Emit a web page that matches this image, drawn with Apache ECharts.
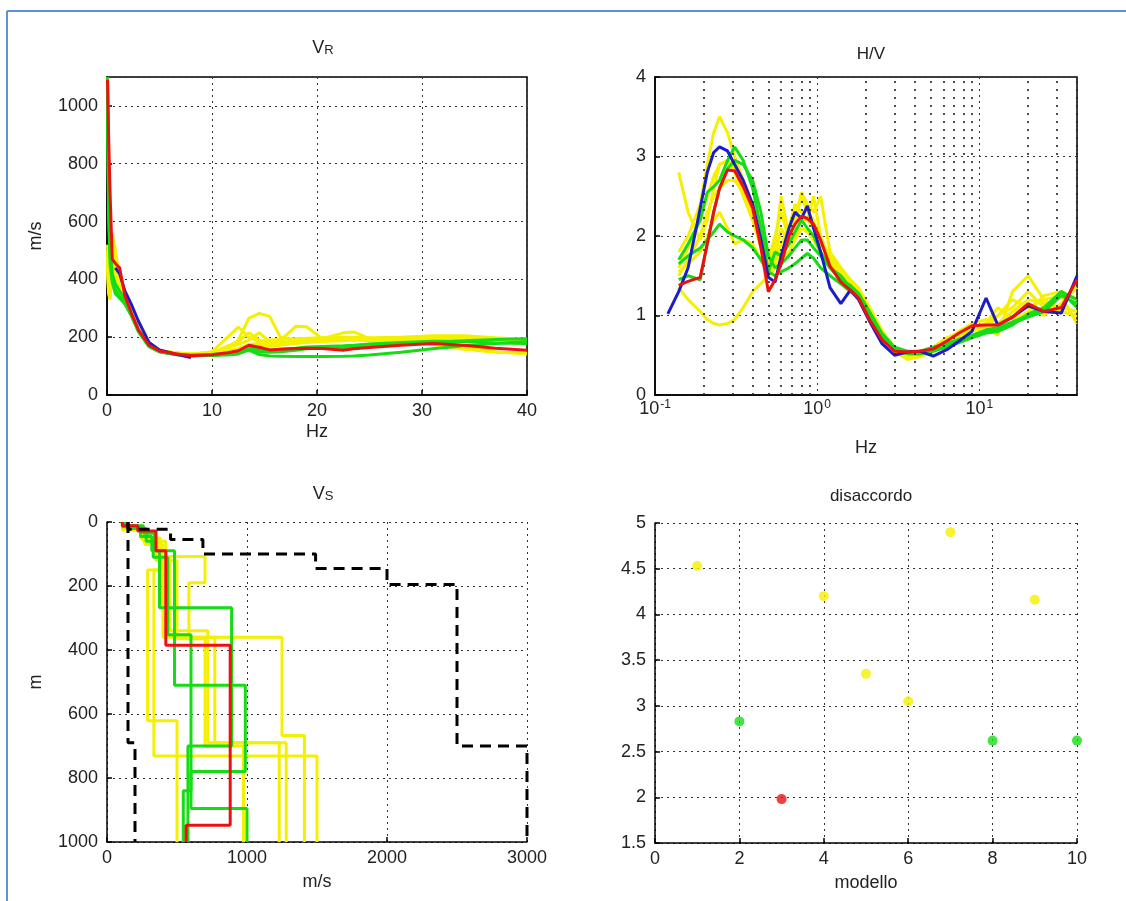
<!DOCTYPE html>
<html>
<head>
<meta charset="utf-8">
<script src="https://cdn.jsdelivr.net/npm/echarts@6/dist/echarts.min.js"></script>
<style>html,body{margin:0;padding:0;background:#fff;}#c{width:1126px;height:901px;}</style>
</head>
<body>
<div id="c"></div>
<script>
// ---------------- DATA ----------------
const MODEL_IDS = [1, 2, 3, 4, 5, 6, 7, 8, 9, 10];
const MODEL_CLASS = ['y', 'g', 'r', 'y', 'y', 'y', 'y', 'g', 'y', 'g'];
const DISACCORDO = [4.53, 2.83, 1.98, 4.2, 3.35, 3.05, 4.9, 2.62, 4.16, 2.62];

// Rayleigh velocity dispersion (Hz -> m/s)
const VR_FREQ = [0.05,0.15,0.3,0.5,0.8,1.2,1.7,2.3,3,4,5,6.5,8,10,11.5,12.5,13.5,14.5,15.5,16.5,18,19,20.5,22.5,23.5,25,28,31,34,37,40];
const VR_OBS = [null,null,null,null,440,420,360,315,255,182,156,142,130,null,null,null,null,null,null,null,null,null,null,null,null,null,null,null,null,null,null];
const VR_M1  = [520,400,350,420,430,380,335,285,225,172,153,145,140,150,200,235,200,185,190,192,195,196,198,200,200,198,200,205,205,198,192];
const VR_M2  = [1100,700,520,420,385,360,330,282,222,170,150,140,135,138,142,148,160,150,148,150,155,160,162,163,165,168,175,182,188,192,195];
const VR_M3  = [1090,900,690,470,455,440,345,285,225,172,152,143,136,139,146,153,172,165,156,158,161,162,161,155,160,164,172,178,172,162,155];
const VR_M4  = [480,380,340,560,500,400,340,288,228,173,154,146,142,148,160,190,265,282,272,200,190,190,192,195,195,194,196,200,198,190,185];
const VR_M5  = [460,360,335,500,450,390,338,286,226,171,153,145,141,146,170,185,215,190,180,188,238,236,195,190,192,193,195,198,196,188,182];
const VR_M6  = [440,350,330,450,420,375,332,283,224,170,152,144,140,145,155,160,175,178,175,178,185,188,195,215,218,195,190,185,170,150,142];
const VR_M7  = [500,390,345,480,440,385,336,284,225,171,152,145,141,146,165,175,190,215,185,182,185,188,190,192,193,192,194,196,195,185,178];
const VR_M8  = [1100,650,480,400,365,340,318,278,220,168,150,140,136,137,138,142,155,140,135,134,133,133,133,134,135,138,148,160,170,178,185];
const VR_M9  = [470,370,338,460,425,378,334,283,224,170,152,144,140,144,150,155,165,170,168,172,178,182,185,188,190,188,182,175,158,148,145];
const VR_M10 = [1060,620,450,390,350,335,315,275,218,167,149,141,138,140,145,152,165,158,155,158,162,166,168,170,172,176,182,186,185,180,178];

// H/V spectral ratio
const HV_FREQ = [0.12,0.14,0.16,0.19,0.21,0.23,0.25,0.28,0.31,0.35,0.4,0.45,0.5,0.55,0.6,0.67,0.73,0.8,0.87,0.95,1.05,1.2,1.4,1.6,1.8,2.1,2.5,3,3.6,4.3,5.2,6.3,7.5,9,11,13,16,20,25,32,40];
const HV_OBS = [1.02,1.3,1.6,2.35,2.8,3.05,3.12,3.07,2.9,2.7,2.4,1.95,1.48,1.42,1.75,2.1,2.3,2.22,2.38,2.1,1.8,1.35,1.15,1.32,1.2,0.93,0.65,0.5,0.54,0.55,0.49,0.57,0.68,0.8,1.22,0.88,0.98,1.12,1.05,1.03,1.5];
const HV_M1  = [null,1.8,2.0,2.4,2.9,3.3,3.5,3.3,3.0,2.7,2.3,1.9,1.6,1.9,2.5,2.0,2.2,2.5,2.3,2.2,1.9,1.7,1.55,1.45,1.3,1.05,0.8,0.55,0.45,0.48,0.55,0.65,0.72,0.82,0.85,0.75,1.3,1.5,1.2,1.25,0.9];
const HV_M2  = [null,1.7,1.9,2.2,2.55,2.62,2.7,2.95,3.12,2.95,2.6,2.1,1.55,1.8,1.75,1.9,2.05,2.2,2.1,2.0,1.8,1.6,1.5,1.35,1.25,1.0,0.75,0.58,0.52,0.52,0.55,0.62,0.7,0.75,0.82,0.85,0.92,1.0,1.05,1.3,1.2];
const HV_M3  = [null,1.38,1.43,1.48,1.9,2.3,2.6,2.83,2.82,2.62,2.35,1.85,1.3,1.45,1.65,2.0,2.15,2.25,2.22,2.15,1.95,1.62,1.42,1.32,1.22,0.95,0.7,0.55,0.54,0.55,0.58,0.68,0.78,0.87,0.88,0.88,0.98,1.15,1.05,1.1,1.45];
const HV_M4  = [null,2.8,2.3,1.95,2.2,2.6,2.9,2.95,2.85,2.6,2.3,2.0,1.7,2.0,2.3,1.95,2.2,2.55,2.4,2.3,2.5,1.8,1.6,1.45,1.3,1.05,0.78,0.55,0.45,0.5,0.6,0.7,0.75,0.85,0.9,1.0,1.1,1.3,1.1,1.05,1.0];
const HV_M5  = [null,1.35,1.2,1.05,0.95,0.9,0.88,0.9,0.95,1.1,1.3,1.4,1.5,1.6,1.7,1.8,1.95,2.1,2.05,1.95,1.8,1.65,1.5,1.4,1.3,1.05,0.8,0.6,0.5,0.52,0.6,0.68,0.8,0.9,0.95,0.85,1.05,1.2,1.15,1.1,1.05];
const HV_M6  = [null,1.5,1.7,2.0,2.3,2.5,2.6,2.7,2.7,2.55,2.3,2.0,1.65,1.75,2.1,1.9,2.05,2.2,2.2,2.5,2.0,1.7,1.5,1.4,1.3,1.1,0.82,0.58,0.48,0.5,0.58,0.7,0.75,0.8,0.85,1.0,1.2,1.1,1.2,1.05,1.0];
const HV_M7  = [null,1.55,1.65,1.8,2.0,2.2,2.3,2.1,1.9,1.95,1.9,1.7,1.55,1.65,1.8,1.9,2.0,2.1,2.05,2.0,1.9,1.7,1.55,1.45,1.35,1.1,0.8,0.55,0.47,0.5,0.6,0.72,0.78,0.85,0.9,1.1,0.95,1.05,1.25,1.3,1.2];
const HV_M8  = [null,1.45,1.5,1.45,1.9,2.3,2.6,2.85,2.95,2.9,2.7,2.3,1.75,1.6,1.65,1.75,1.85,1.95,1.95,1.85,1.75,1.6,1.45,1.38,1.28,1.05,0.78,0.6,0.55,0.55,0.6,0.65,0.7,0.75,0.8,0.82,0.9,0.98,1.05,1.25,1.15];
const HV_M9  = [null,1.6,1.85,2.2,2.5,2.75,2.9,2.95,2.8,2.5,2.2,1.85,1.55,1.7,1.9,2.1,2.4,2.3,2.2,2.1,1.95,1.75,1.55,1.42,1.3,1.08,0.8,0.56,0.48,0.5,0.58,0.68,0.75,0.82,0.85,0.9,1.05,1.1,1.0,1.15,1.35];
const HV_M10 = [null,1.65,1.75,1.85,1.95,2.05,2.15,2.05,2.0,1.95,1.85,1.7,1.55,1.5,1.55,1.6,1.65,1.72,1.78,1.72,1.6,1.5,1.4,1.3,1.22,1.0,0.75,0.58,0.52,0.52,0.56,0.6,0.66,0.72,0.78,0.8,0.88,1.02,1.1,1.3,1.1];

// Vs profiles: [layer top depth (m), Vs (m/s)]
const VS_M1  = [[0,130],[15,250],[50,380],[150,290],[621,500]];
const VS_M2  = [[0,130],[12,260],[35,340],[90,375],[268,890],[700,578]];
const VS_M3  = [[0,110],[12,220],[28,350],[90,420],[385,880],[948,565]];
const VS_M4  = [[0,120],[20,260],[60,380],[150,335],[731,1500]];
const VS_M5  = [[0,140],[25,280],[60,420],[108,700],[190,585],[360,1250],[667,1410]];
const VS_M6  = [[0,120],[20,250],[55,360],[110,450],[340,720],[690,1280]];
const VS_M7  = [[0,110],[25,270],[70,400],[360,770],[690,1230]];
const VS_M8  = [[0,110],[15,240],[45,320],[90,482],[510,988],[780,600],[895,1000]];
const VS_M9  = [[0,130],[20,240],[50,350],[120,500],[365,700],[700,975]];
const VS_M10 = [[0,150],[20,280],[60,330],[110,434],[352,600],[840,545]];
const VS_MIN = [[0,150],[690,200]];
const VS_MAX = [[0,150],[23,454],[55,685],[100,1490],[145,2000],[195,2500],[700,3000]];
const VS_MAX_DEPTH = 1000;

// ---------------- STYLE ----------------
const FONT = 'Liberation Sans, Arial, sans-serif';
const COLORS = { y: '#f4f000', g: '#16dc16', r: '#ee1010', b: '#1c1cc8' };
const VR_MODELS = [VR_M1, VR_M2, VR_M3, VR_M4, VR_M5, VR_M6, VR_M7, VR_M8, VR_M9, VR_M10];
const HV_MODELS = [HV_M1, HV_M2, HV_M3, HV_M4, HV_M5, HV_M6, HV_M7, HV_M8, HV_M9, HV_M10];
const VS_MODELS = [VS_M1, VS_M2, VS_M3, VS_M4, VS_M5, VS_M6, VS_M7, VS_M8, VS_M9, VS_M10];

const pair = (xs, ys) => xs.map((x, i) => [x, ys[i]]);
function steps(layers) {
  const pts = [];
  layers.forEach((l, i) => {
    const bottom = i < layers.length - 1 ? layers[i + 1][0] : VS_MAX_DEPTH;
    pts.push([l[1], l[0]]);
    pts.push([l[1], bottom]);
  });
  return pts;
}

const FS = 18;
const gridLine = { show: true, lineStyle: { color: '#333', type: [2, 4], width: 1 } };
const plain = v => String(v);
const lbl = { fontSize: FS, color: '#222', fontFamily: FONT, formatter: plain };
const nameStyle = { fontSize: FS, color: '#222', fontFamily: FONT };
const axLine = { show: true, onZero: false, lineStyle: { color: '#000', width: 1.5 } };
const tick = { show: true, inside: true, length: 5, lineStyle: { color: '#000', width: 1.5 } };

const order = ['y', 'g', 'r'];
const series = [];
// minor log gridlines for H/V plot
const minorLog = [];
[0.1, 1, 10].forEach(d => { for (let k = 2; k <= 9; k++) { if (d * k <= 40) minorLog.push(d * k); } });
series.push({
  type: 'line', xAxisIndex: 1, yAxisIndex: 1, data: [], z: 1, silent: true,
  markLine: { silent: true, symbol: ['none', 'none'], label: { show: false }, animation: false,
    lineStyle: { type: [2, 6], color: '#222', width: 1.6 },
    data: minorLog.map(v => ({ xAxis: v })) }
});

order.forEach(cls => {
  MODEL_IDS.forEach((id, i) => {
    if (MODEL_CLASS[i] !== cls) return;
    const c = COLORS[cls];
    const base = { type: 'line', showSymbol: false, symbol: 'none', animation: false, silent: true,
      lineStyle: { color: c, width: 3 }, z: cls === 'r' ? 5 : (cls === 'g' ? 3 : 2) };
    series.push(Object.assign({}, base, { xAxisIndex: 0, yAxisIndex: 0, data: pair(VR_FREQ, VR_MODELS[i]) }));
    series.push(Object.assign({}, base, { xAxisIndex: 1, yAxisIndex: 1, data: pair(HV_FREQ, HV_MODELS[i]) }));
    series.push(Object.assign({}, base, { xAxisIndex: 2, yAxisIndex: 2, data: steps(VS_MODELS[i]) }));
  });
  if (cls === 'g') {
    const baseB = { type: 'line', showSymbol: false, symbol: 'none', animation: false, silent: true,
      lineStyle: { color: COLORS.b, width: 3 }, z: 4 };
    series.push(Object.assign({}, baseB, { xAxisIndex: 0, yAxisIndex: 0, data: pair(VR_FREQ, VR_OBS) }));
    series.push(Object.assign({}, baseB, { xAxisIndex: 1, yAxisIndex: 1, data: pair(HV_FREQ, HV_OBS) }));
  }
});
[VS_MIN, VS_MAX].forEach(b => series.push({
  type: 'line', xAxisIndex: 2, yAxisIndex: 2, showSymbol: false, symbol: 'none', animation: false, silent: true, z: 6,
  lineStyle: { color: '#000', width: 3, type: [11, 7] }, data: steps(b)
}));
series.push({
  type: 'scatter', xAxisIndex: 3, yAxisIndex: 3, symbolSize: 10, animation: false, silent: true,
  data: DISACCORDO.map((d, i) => ({ value: [MODEL_IDS[i], d], itemStyle: { color: COLORS[MODEL_CLASS[i]] } }))
});

const logFmt = v => {
  const l = Math.log10(v), e = Math.round(l);
  if (Math.abs(l - e) > 1e-6) return '';
  return '{b|10}{s|' + e + '}';
};

const subRich = {
  v: { fontSize: 18, fontWeight: 'normal', color: '#222', fontFamily: FONT, verticalAlign: 'top', lineHeight: 18, padding: [0, 0, 7, 0] },
  s: { fontSize: 13, fontWeight: 'normal', color: '#222', fontFamily: FONT, verticalAlign: 'bottom', lineHeight: 13 }
};

const option = {
  backgroundColor: '#fff',
  animation: false,
  title: [
    { text: '{v|V}{s|R}', left: 318, top: 34, textAlign: 'center', textStyle: { fontWeight: 'normal', fontFamily: FONT, rich: subRich } },
    { text: 'H/V', left: 866, top: 41, textAlign: 'center', textStyle: { fontSize: 17, fontWeight: 'normal', color: '#222', fontFamily: FONT } },
    { text: '{v|V}{s|S}', left: 318, top: 480, textAlign: 'center', textStyle: { fontWeight: 'normal', fontFamily: FONT, rich: subRich } },
    { text: 'disaccordo', left: 866, top: 483, textAlign: 'center', textStyle: { fontSize: 17, fontWeight: 'normal', color: '#222', fontFamily: FONT } }
  ],
  graphic: [
    { type: 'line', shape: { x1: 7, y1: 11, x2: 1126, y2: 11 }, style: { stroke: '#5d8fdc', lineWidth: 2 }, silent: true },
    { type: 'line', shape: { x1: 7, y1: 11, x2: 7, y2: 901 }, style: { stroke: '#5d8fdc', lineWidth: 2 }, silent: true }
  ],
  grid: [
    { left: 107, top: 77, width: 420, height: 318, show: true, borderColor: '#000', borderWidth: 1.5, backgroundColor: 'transparent' },
    { left: 655, top: 77, width: 422, height: 318, show: true, borderColor: '#000', borderWidth: 1.5, backgroundColor: 'transparent' },
    { left: 107, top: 522, width: 420, height: 320 },
    { left: 655, top: 523, width: 422, height: 320 }
  ],
  xAxis: [
    { gridIndex: 0, type: 'value', min: 0, max: 40, interval: 10, name: 'Hz', nameLocation: 'middle', nameGap: 28, nameTextStyle: nameStyle,
      axisLine: axLine, axisTick: tick, axisLabel: Object.assign({ margin: 7 }, lbl), splitLine: gridLine },
    { gridIndex: 1, type: 'log', logBase: 10, min: 0.1, max: 40, name: 'Hz', nameLocation: 'middle', nameGap: 44, nameTextStyle: nameStyle,
      axisLine: axLine, axisTick: { show: false }, splitLine: gridLine,
      axisLabel: { margin: 4, formatter: logFmt, showMaxLabel: false,
        rich: { b: { fontSize: FS, color: '#222', fontFamily: FONT, lineHeight: 19, verticalAlign: 'bottom' },
                s: { fontSize: 12, color: '#222', fontFamily: FONT, lineHeight: 12, verticalAlign: 'top', padding: [0, 0, 14, 1] } } } },
    { gridIndex: 2, type: 'value', min: 0, max: 3000, interval: 1000, name: 'm/s', nameLocation: 'middle', nameGap: 31, nameTextStyle: nameStyle,
      axisLine: axLine, axisTick: tick, axisLabel: Object.assign({ margin: 7 }, lbl), splitLine: gridLine },
    { gridIndex: 3, type: 'value', min: 0, max: 10, interval: 2, name: 'modello', nameLocation: 'middle', nameGap: 31, nameTextStyle: nameStyle,
      axisLine: axLine, axisTick: tick, axisLabel: Object.assign({ margin: 7 }, lbl), splitLine: gridLine }
  ],
  yAxis: [
    { gridIndex: 0, type: 'value', min: 0, max: 1100, interval: 200, name: 'm/s', nameLocation: 'middle', nameGap: 62, nameTextStyle: nameStyle,
      axisLine: axLine, axisTick: tick, splitLine: gridLine,
      axisLabel: Object.assign({}, lbl, { margin: 9, showMaxLabel: false, formatter: v => (v % 200 === 0 ? String(v) : '') }) },
    { gridIndex: 1, type: 'value', min: 0, max: 4, interval: 1, axisLine: axLine, axisTick: tick, splitLine: gridLine,
      axisLabel: Object.assign({ margin: 9 }, lbl) },
    { gridIndex: 2, type: 'value', min: 0, max: 1000, interval: 200, inverse: true, name: 'm', nameLocation: 'middle', nameGap: 62, nameTextStyle: nameStyle,
      axisLine: axLine, axisTick: tick, splitLine: gridLine, axisLabel: Object.assign({ margin: 9 }, lbl) },
    { gridIndex: 3, type: 'value', min: 1.5, max: 5, interval: 0.5, axisLine: axLine, axisTick: tick, splitLine: gridLine,
      axisLabel: Object.assign({ margin: 9 }, lbl) }
  ],
  series: series
};

const chart = echarts.init(document.getElementById('c'), null, { renderer: 'canvas' });
chart.setOption(option);
</script>
</body>
</html>
